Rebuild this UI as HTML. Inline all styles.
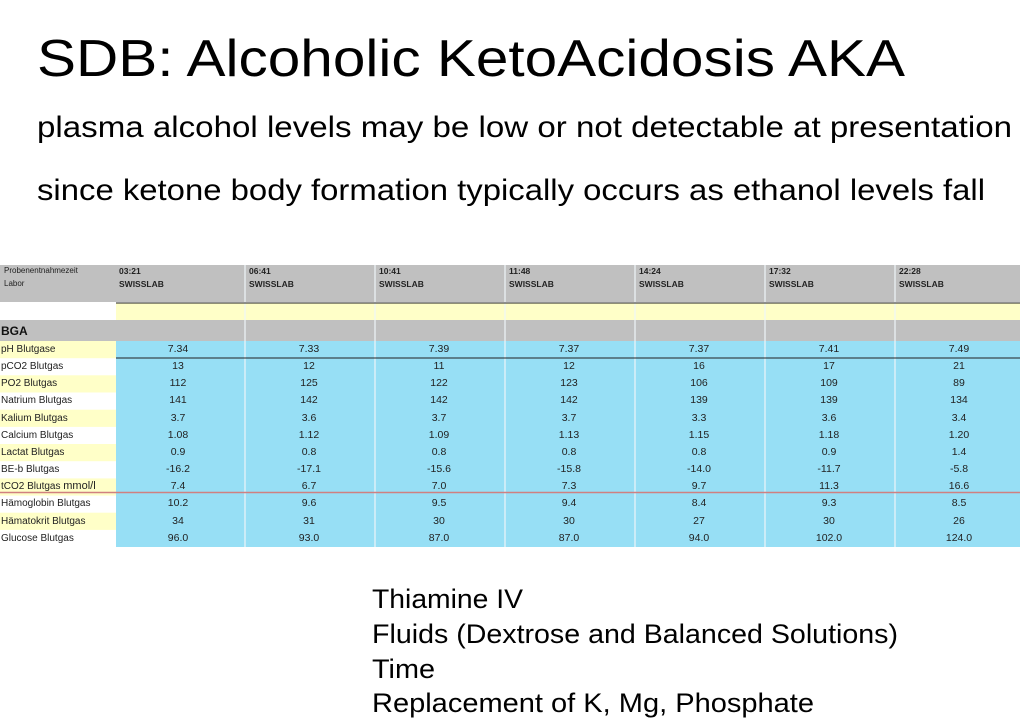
<!DOCTYPE html>
<html><head><meta charset="utf-8"><style>
html,body{margin:0;padding:0;background:#fff;}
svg{display:block;}
</style></head><body>
<svg width="1024" height="721" xmlns="http://www.w3.org/2000/svg" font-family="Liberation Sans, Arial, sans-serif">
<text x="37" y="76" font-size="52" fill="#000" textLength="868" lengthAdjust="spacingAndGlyphs">SDB: Alcoholic KetoAcidosis AKA</text>
<text x="37" y="137" font-size="30" fill="#000" textLength="975" lengthAdjust="spacingAndGlyphs">plasma alcohol levels may be low or not detectable at presentation</text>
<text x="37" y="200" font-size="30" fill="#000" textLength="948" lengthAdjust="spacingAndGlyphs">since ketone body formation typically occurs as ethanol levels fall</text>

<!-- table backgrounds -->
<rect x="0" y="265" width="1020" height="37" fill="#c0c0c0"/>
<rect x="116" y="303" width="904" height="17" fill="#ffffc8"/>
<rect x="0" y="320" width="1020" height="21" fill="#c0c0c0"/>
<rect x="116" y="341" width="904" height="206" fill="#97dff5"/>
<g fill="#ffffc8">
<rect x="0" y="341" width="116" height="17.2"/>
<rect x="0" y="375.3" width="116" height="17.2"/>
<rect x="0" y="409.7" width="116" height="17.2"/>
<rect x="0" y="444" width="116" height="17.2"/>
<rect x="0" y="478.4" width="116" height="17.2"/>
<rect x="0" y="512.7" width="116" height="17.2"/>
</g>
<g stroke="#eef6f8" stroke-width="1.2">
<line x1="245" y1="265" x2="245" y2="547"/><line x1="375" y1="265" x2="375" y2="547"/>
<line x1="505" y1="265" x2="505" y2="547"/><line x1="635" y1="265" x2="635" y2="547"/>
<line x1="765" y1="265" x2="765" y2="547"/><line x1="895" y1="265" x2="895" y2="547"/>
</g>
<line x1="116" y1="303" x2="1020" y2="303" stroke="#222" stroke-width="1"/>
<line x1="116" y1="358" x2="1020" y2="358" stroke="#222" stroke-width="1"/>
<line x1="0" y1="492.5" x2="1020" y2="492.5" stroke="#d08080" stroke-width="1.5"/>

<g font-size="8" fill="#222">
<text x="4" y="273">Probenentnahmezeit</text><text x="4" y="286">Labor</text>
</g>
<g font-size="8.5" font-weight="bold" fill="#222">
<text x="119" y="274">03:21</text><text x="119" y="287">SWISSLAB</text>
<text x="249" y="274">06:41</text><text x="249" y="287">SWISSLAB</text>
<text x="379" y="274">10:41</text><text x="379" y="287">SWISSLAB</text>
<text x="509" y="274">11:48</text><text x="509" y="287">SWISSLAB</text>
<text x="639" y="274">14:24</text><text x="639" y="287">SWISSLAB</text>
<text x="769" y="274">17:32</text><text x="769" y="287">SWISSLAB</text>
<text x="899" y="274">22:28</text><text x="899" y="287">SWISSLAB</text>
</g>
<text x="1" y="335" font-size="12" font-weight="bold" fill="#111">BGA</text>
<g font-size="10" fill="#222">
<text x="1" y="352">pH Blutgase</text>
<text x="1" y="369">pCO2 Blutgas</text>
<text x="1" y="386">PO2 Blutgas</text>
<text x="1" y="403">Natrium Blutgas</text>
<text x="1" y="421">Kalium Blutgas</text>
<text x="1" y="438">Calcium Blutgas</text>
<text x="1" y="455">Lactat Blutgas</text>
<text x="1" y="472">BE-b Blutgas</text>
<text x="1" y="489">tCO2 Blutgas <tspan font-size="11">mmol/l</tspan></text>
<text x="1" y="506">Hämoglobin Blutgas</text>
<text x="1" y="524">Hämatokrit Blutgas</text>
<text x="1" y="541">Glucose Blutgas</text>
</g>
<g font-size="10.5" fill="#222" text-anchor="middle">
<g transform="translate(178,0)">
<text y="352">7.34</text><text y="369">13</text><text y="386">112</text><text y="403">141</text><text y="421">3.7</text><text y="438">1.08</text><text y="455">0.9</text><text y="472">-16.2</text><text y="489">7.4</text><text y="506">10.2</text><text y="524">34</text><text y="541">96.0</text></g>
<g transform="translate(309,0)">
<text y="352">7.33</text><text y="369">12</text><text y="386">125</text><text y="403">142</text><text y="421">3.6</text><text y="438">1.12</text><text y="455">0.8</text><text y="472">-17.1</text><text y="489">6.7</text><text y="506">9.6</text><text y="524">31</text><text y="541">93.0</text></g>
<g transform="translate(439,0)">
<text y="352">7.39</text><text y="369">11</text><text y="386">122</text><text y="403">142</text><text y="421">3.7</text><text y="438">1.09</text><text y="455">0.8</text><text y="472">-15.6</text><text y="489">7.0</text><text y="506">9.5</text><text y="524">30</text><text y="541">87.0</text></g>
<g transform="translate(569,0)">
<text y="352">7.37</text><text y="369">12</text><text y="386">123</text><text y="403">142</text><text y="421">3.7</text><text y="438">1.13</text><text y="455">0.8</text><text y="472">-15.8</text><text y="489">7.3</text><text y="506">9.4</text><text y="524">30</text><text y="541">87.0</text></g>
<g transform="translate(699,0)">
<text y="352">7.37</text><text y="369">16</text><text y="386">106</text><text y="403">139</text><text y="421">3.3</text><text y="438">1.15</text><text y="455">0.8</text><text y="472">-14.0</text><text y="489">9.7</text><text y="506">8.4</text><text y="524">27</text><text y="541">94.0</text></g>
<g transform="translate(829,0)">
<text y="352">7.41</text><text y="369">17</text><text y="386">109</text><text y="403">139</text><text y="421">3.6</text><text y="438">1.18</text><text y="455">0.9</text><text y="472">-11.7</text><text y="489">11.3</text><text y="506">9.3</text><text y="524">30</text><text y="541">102.0</text></g>
<g transform="translate(959,0)">
<text y="352">7.49</text><text y="369">21</text><text y="386">89</text><text y="403">134</text><text y="421">3.4</text><text y="438">1.20</text><text y="455">1.4</text><text y="472">-5.8</text><text y="489">16.6</text><text y="506">8.5</text><text y="524">26</text><text y="541">124.0</text></g>
</g>

<g font-size="27" fill="#000">
<text x="372" y="608" textLength="151" lengthAdjust="spacingAndGlyphs">Thiamine IV</text>
<text x="372" y="643" textLength="526" lengthAdjust="spacingAndGlyphs">Fluids (Dextrose and Balanced Solutions)</text>
<text x="372" y="678" textLength="63" lengthAdjust="spacingAndGlyphs">Time</text>
<text x="372" y="712" textLength="442" lengthAdjust="spacingAndGlyphs">Replacement of K, Mg, Phosphate</text>
</g>
</svg>
</body></html>
